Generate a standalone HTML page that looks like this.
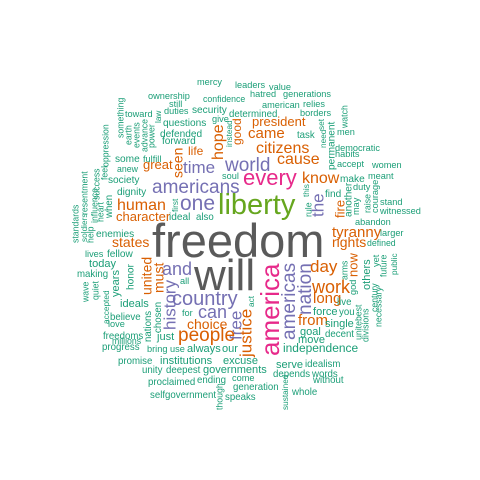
<!DOCTYPE html>
<html><head><meta charset="utf-8"><title>Word cloud</title>
<style>
html,body{margin:0;padding:0;background:#fff;}
svg{display:block;}
text{font-family:"Liberation Sans",Arial,sans-serif;}
</style></head>
<body>
<svg id="cloud" width="480" height="480" viewBox="0 0 480 480">
<rect width="480" height="480" fill="#fff"/>
</svg>
<script>
// word, font size (frequency scale), colour group
const words = [
["freedom",47,"g"],["will",44,"g"],["liberty",29,"l"],["america",26,"p"],["every",22,"p"],
["americans",19,"v"],["one",21,"v"],["world",19,"v"],["time",17,"v"],["country",20,"v"],["and",18,"v"],["can",18,"v"],
["history",17,"v"],["free",17,"v"],["americas",19,"v"],["nation",19,"v"],["the",17,"v"],
["justice",17,"o"],["people",19,"o"],["work",18,"o"],["day",17,"o"],["citizens",16,"o"],["cause",16,"o"],["know",16,"o"],
["came",15,"o"],["human",16,"o"],["hope",16,"o"],["seen",14,"o"],["tyranny",15,"o"],["rights",14,"o"],["states",14,"o"],
["long",15,"o"],["from",15,"o"],["united",14,"o"],["must",14,"o"],["choice",14,"o"],["president",13,"o"],["great",13,"o"],
["character",13,"o"],["fire",13,"o"],["now",13,"o"],["life",12,"o"],["good",12,"o"],
["ownership",10,"t"],["confidence",9.5,"t"],["still",10,"t"],["duties",10,"t"],["security",11,"t"],["determined",10.5,"t"],
["toward",10,"t"],["law",9,"t"],["give",10,"t"],["questions",11,"t"],["something",9.5,"t"],["earth",9.5,"t"],["events",9.5,"t"],
["advance",9.5,"t"],["power",9.5,"t"],["oppression",9.5,"t"],["defended",11,"t"],["instead",9,"t"],["forward",11,"t"],
["some",11,"t"],["fulfill",10,"t"],["feel",9.5,"t"],["success",9.5,"t"],["anew",9.5,"t"],["soul",10,"t"],["society",11,"t"],
["dignity",11,"t"],["influence",9.5,"t"],["heart",9.5,"t"],["when",10.5,"t"],["first",9,"t"],["ideal",11,"t"],["also",10.5,"t"],
["enemies",11,"t"],["mercy",10,"t"],["leaders",10,"t"],["value",10,"t"],["hatred",10,"t"],["generations",10,"t"],
["american",10,"t"],["relies",10,"t"],["borders",10,"t"],["set",9,"t"],["watch",9.5,"t"],["permanent",11,"t"],["task",10.5,"t"],
["need",9,"t"],["men",10,"t"],["democratic",10,"t"],["habits",10,"t"],["accept",10,"t"],["women",10,"t"],["make",11,"t"],
["meant",10,"t"],["this",9,"t"],["rule",9.5,"t"],["find",11,"t"],["duty",10,"t"],["another",11,"t"],["may",10,"t"],
["raise",9.5,"t"],["courage",10,"t"],["stand",10,"t"],["witnessed",10,"t"],["abandon",10,"t"],["larger",10,"t"],["defined",9.5,"t"],
["future",9.5,"t"],["public",9,"t"],["necessary",9.5,"t"],["standards",9.5,"t"],["resentment",9.5,"t"],["soldiers",9,"t"],
["help",9.5,"t"],["lives",10,"t"],["fellow",11,"t"],["today",12,"t"],["honor",11,"t"],["all",10,"t"],["years",12,"t"],
["making",10.5,"t"],["quiet",9.5,"t"],["accepted",9,"t"],["wave",9.5,"t"],["ideals",12,"t"],["chosen",10.5,"t"],["nations",10.5,"t"],
["believe",10.5,"t"],["love",10,"t"],["for",10,"t"],["freedoms",10.5,"t"],["millions",9.5,"t"],["progress",10.5,"t"],["just",12,"t"],
["bring",10,"t"],["use",10,"t"],["always",12,"t"],["our",12,"t"],["promise",10.5,"t"],["institutions",12,"t"],["excuse",12,"t"],
["unity",10.5,"t"],["deepest",10.5,"t"],["governments",12,"t"],["proclaimed",10.5,"t"],["ending",10.5,"t"],["come",10,"t"],
["generation",10.5,"t"],["selfgovernment",10.5,"t"],["though",9.5,"t"],["speaks",10.5,"t"],["arms",9.5,"t"],["others",12,"t"],
["yet",10,"t"],["century",9.5,"t"],["god",10,"t"],["live",10.5,"t"],["force",12,"t"],["you",10.5,"t"],["unitebest",9.5,"t"],
["divisions",9.5,"t"],["single",12,"t"],["goal",12,"t"],["decent",10.5,"t"],["move",12,"t"],["independence",13,"t"],
["serve",12,"t"],["idealism",10.5,"t"],["depends",10.5,"t"],["words",10.5,"t"],["without",10.5,"t"],["whole",10.5,"t"],
["sustained",9,"t"],["act",9,"t"]
];
const palette = {g:"#5a5a5a",l:"#66a61e",p:"#e7298a",v:"#7570b3",o:"#d95f02",t:"#1b9e77"};
// layout: word -> [left x, baseline y (or bottom y for vertical), vertical?]
const layout = {
freedom:[152,257,0],will:[194,290,0],liberty:[218,214,0],america:[260,356,1],every:[243,185,0],
americans:[152,193,0],one:[180,210,0],world:[225,171,0],time:[183,173,0],country:[172,305,0],and:[162,275,0],can:[198,318,0],
history:[163,330,1],free:[229,340,1],americas:[281,340,1],nation:[297,315,1],the:[311,217,1],
justice:[239,357,1],people:[178,341,0],work:[312,293,0],day:[310,272,0],citizens:[256,153,0],cause:[277,164,0],know:[302,183,0],
came:[248,138,0],human:[117,210,0],hope:[211,160,1],seen:[172,178,1],tyranny:[332,237,0],rights:[332,247,0],states:[112,247,0],
long:[313,303,0],from:[298,325,0],united:[141,295,1],must:[153,293,1],choice:[187,329,0],president:[252,126,0],great:[143,169,0],
character:[116,221,0],fire:[335,218,1],now:[348,277,1],life:[188,155,0],good:[232,145,1],
ownership:[148,99,0],confidence:[203,102,0],still:[169,107,0],duties:[164,114,0],security:[192,113,0],determined:[229,117,0],
toward:[125,117,0],law:[155,123,1],give:[212,122,0],questions:[163,126,0],something:[117,138,1],earth:[125,145,1],events:[133,148,1],
advance:[141,152,1],power:[148,148,1],oppression:[102,167,1],defended:[160,137,0],instead:[226,147,1],forward:[162,144,0],
some:[115,162,0],fulfill:[143,162,0],feel:[101,180,1],success:[93,200,1],anew:[117,172,0],soul:[222,179,0],society:[108,183,0],
dignity:[117,195,0],influence:[91,223,1],heart:[97,222,1],when:[105,218,1],first:[172,212,1],ideal:[169,220,0],also:[196,220,0],
enemies:[96,237,0],mercy:[197,85,0],leaders:[235,88,0],value:[269,90,0],hatred:[250,97,0],generations:[283,97,0],
american:[262,108,0],relies:[303,107,0],borders:[300,116,0],set:[318,130,1],watch:[341,128,1],permanent:[327,170,1],task:[297,138,0],
need:[320,148,1],men:[337,135,0],democratic:[335,151,0],habits:[335,157,0],accept:[337,167,0],women:[372,168,0],make:[340,182,0],
meant:[368,179,0],this:[303,197,1],rule:[305,217,1],find:[325,197,0],duty:[353,190,0],another:[344,217,1],may:[352,215,1],
raise:[364,213,1],courage:[371,213,1],stand:[380,205,0],witnessed:[380,214,0],abandon:[355,225,0],larger:[380,236,0],defined:[367,246,0],
future:[380,277,1],public:[391,275,1],necessary:[375,327,1],standards:[72,243,1],resentment:[81,215,1],soldiers:[81,242,1],
help:[87,243,1],lives:[85,257,0],fellow:[107,257,0],today:[89,267,0],honor:[126,290,1],all:[180,284,0],years:[111,297,1],
making:[77,277,0],quiet:[92,300,1],accepted:[103,324,1],wave:[82,302,1],ideals:[120,307,0],chosen:[154,333,1],nations:[144,342,1],
believe:[110,320,0],love:[108,327,0],"for":[182,316,0],freedoms:[103,339,0],millions:[112,344,0],progress:[102,350,0],just:[157,340,0],
bring:[147,352,0],use:[170,352,0],always:[187,352,0],our:[222,352,0],promise:[118,364,0],institutions:[160,364,0],excuse:[223,364,0],
unity:[142,373,0],deepest:[166,373,0],governments:[203,373,0],proclaimed:[148,385,0],ending:[197,383,0],come:[232,381,0],
generation:[233,390,0],selfgovernment:[150,398,0],though:[216,410,1],speaks:[225,400,0],arms:[341,280,1],others:[362,290,1],
yet:[372,267,1],century:[371,312,1],god:[349,295,1],live:[337,305,0],force:[313,315,0],you:[339,315,0],unitebest:[355,340,1],
divisions:[362,342,1],single:[325,327,0],goal:[300,335,0],decent:[325,337,0],move:[298,343,0],independence:[283,352,0],
serve:[276,368,0],idealism:[305,367,0],depends:[273,377,0],words:[312,377,0],without:[313,383,0],whole:[292,395,0],
sustained:[282,410,1],act:[248,307,1]
};
const svg = document.getElementById('cloud');
const NS = 'http://www.w3.org/2000/svg';
words.forEach(function(w){
  const pos = layout[w[0]];
  if(!pos) return;
  const fs = w[2] === 't' ? w[1] * 0.92 : w[1];
  const t = document.createElementNS(NS,'text');
  t.textContent = w[0];
  t.setAttribute('font-size', fs);
  t.setAttribute('fill', palette[w[2]]);
  if(pos[2]){
    t.setAttribute('transform','translate('+(pos[0]+fs*0.74)+','+pos[1]+') rotate(-90)');
  } else {
    t.setAttribute('x', pos[0]);
    t.setAttribute('y', pos[1]);
  }
  
  
  svg.appendChild(t);
});
</script>
</body></html>
